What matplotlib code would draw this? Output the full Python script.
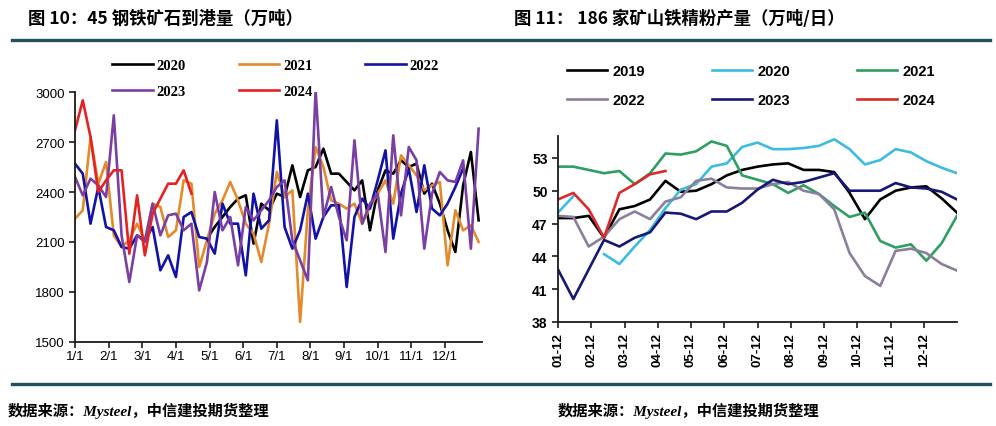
"""Iron ore panel pair: 45-port weekly arrivals and 186-mine concentrate output."""

import matplotlib

matplotlib.use("Agg")
import matplotlib.pyplot as plt
import numpy as np
from matplotlib.lines import Line2D

nan = np.nan
W, H = 996, 427

# --- left panel: 45 港铁矿石到港量, weekly (万吨) ---
arrival_years = ["2020", "2021", "2022", "2023", "2024"]
arrival_colors = ["#000000", "#e38b2c", "#1212a6", "#7a3fa3", "#e52222"]
arrivals_2020 = [nan] * 17 + [
    2120, 2190, 2250, 2310, 2360, 2380, 2090, 2330, 2290, 2390, 2370, 2560, 2370,
    2530, 2550, 2660, 2510, 2510, 2460, 2410, 2470, 2170, 2410, 2530, 2510, 2590,
    2550, 2570, 2390, 2450, 2330, 2170, 2040, 2440, 2640, 2230]
arrivals_2021 = [
    2240, 2290, 2730, 2450, 2580, 2140, 2070, 2110, 2210, 2110, 2330, 2310, 2130,
    2170, 2470, 2450, 1950, 2110, 2270, 2350, 2460, 2350, 2210, 2150, 1980, 2210,
    2520, 2370, 2410, 1620, 2290, 2670, 2550, 2350, 2330, 2300, 2330, 2210, 2310,
    2390, 2470, 2330, 2620, 2560, 2500, 2410, 2440, 2460, 1960, 2290, 2170, 2200, 2100]
arrivals_2022 = [
    2570, 2510, 2210, 2430, 2190, 2170, 2070, 2060, 2140, 2110, 2190, 1930, 2020,
    1890, 2250, 2280, 2130, 2120, 2030, 2330, 2210, 2210, 1900, 2390, 2180, 2230,
    2830, 2190, 2060, 2170, 2390, 2120, 2250, 2320, 2320, 1830, 2250, 2360, 2300,
    2470, 2650, 2120, 2390, 2540, 2280, 2560, 2300, 2260, 2330, 2430, 2540]
arrivals_2023 = [
    2490, 2380, 2480, 2440, 2370, 2860, 2140, 1860, 2140, 2100, 2330, 2140, 2260,
    2270, 2170, 2210, 1810, 1980, 2400, 2170, 2250, 1960, 2310, 2230, 2290, 2350,
    2430, 2470, 2110, 1990, 1870, 3010, 2250, 2430, 2250, 2110, 2710, 2210, 2330,
    2390, 2040, 2740, 2260, 2670, 2590, 2060, 2390, 2520, 2470, 2460, 2590, 2060, 2780]
arrivals_2024 = [
    2770, 2950, 2730, 2400, 2470, 2530, 2530, 2030, 2380, 2020, 2270, 2360, 2450,
    2450, 2530, 2390]
arrival_months = ["1/1", "2/1", "3/1", "4/1", "5/1", "6/1",
                  "7/1", "8/1", "9/1", "10/1", "11/1", "12/1"]
arrival_yticks = [1500, 1800, 2100, 2400, 2700, 3000]

# --- right panel: 186 家矿山铁精粉产量, biweekly (万吨/日) ---
output_years = ["2019", "2020", "2021", "2022", "2023", "2024"]
output_colors = ["#000000", "#3dbbe0", "#2f9e63", "#8b7f9c", "#171775", "#d92b2b"]
output_2019 = [47.5, 47.5, 47.7, 45.7, 48.3, 48.6, 49.2, 50.9, 49.9, 50.0, 50.6, 51.4,
               51.9, 52.2, 52.4, 52.5, 51.9, 51.9, 51.7, 49.8, 47.4, 49.2, 50.0, 50.3,
               50.4, 49.3, 48.0]
output_2020 = [48.0, 49.5, nan, 44.2, 43.3, 44.9, 46.4, 48.4, 50.1, 50.6, 52.2, 52.5,
               54.0, 54.4, 53.8, 53.8, 53.9, 54.1, 54.7, 53.8, 52.4, 52.8, 53.8, 53.5,
               52.7, 52.1, 51.6]
output_2021 = [52.2, 52.2, 51.9, 51.6, 51.8, 50.6, 51.6, 53.4, 53.3, 53.6, 54.5, 54.1,
               51.4, 51.0, 50.6, 49.8, 50.5, 49.7, 48.6, 47.6, 48.0, 45.4, 44.8, 45.1,
               43.6, 45.2, 47.7]
output_2022 = [47.7, 47.6, 44.9, 45.8, 47.4, 48.1, 47.4, 49.0, 49.4, 50.9, 51.1, 50.3,
               50.2, 50.2, 50.6, 50.8, 50.0, 49.7, 48.3, 44.3, 42.2, 41.3, 44.5, 44.7,
               44.3, 43.3, 42.7]
output_2023 = [42.8, 40.1, 42.8, 45.5, 44.9, 45.7, 46.2, 48.0, 47.9, 47.4, 48.1, 48.1,
               48.9, 50.1, 51.0, 50.6, 50.8, 51.2, 51.6, 50.0, 50.0, 50.0, 50.7, 50.3,
               50.2, 49.9, 49.2]
output_2024 = [49.2, 49.8, 48.3, 45.7, 49.8, 50.6, 51.5, 51.8]
output_months = ["01-12", "02-12", "03-12", "04-12", "05-12", "06-12",
                 "07-12", "08-12", "09-12", "10-12", "11-12", "12-12"]
output_yticks = [38, 41, 44, 47, 50, 53]

RULE = "#22505f"
CJK = ["Noto Sans CJK SC", "DejaVu Sans"]


def fx(px):
    return px / W


def fy(py):
    return 1 - py / H


def add_axes(left, top, right, bottom):
    return fig.add_axes([fx(left), fy(bottom), fx(right - left), (bottom - top) / H])


def style_spines(ax):
    for side in ("top", "right"):
        ax.spines[side].set_visible(False)
    for side in ("left", "bottom"):
        ax.spines[side].set_linewidth(1.3)
        ax.spines[side].set_color("#1a1a1a")
    ax.tick_params(direction="out", length=4, width=1.2, color="#1a1a1a")


fig = plt.figure(figsize=(W / 100, H / 100), dpi=100, facecolor="white")

# header / footer rules and texts
for py in (41, 385):
    fig.add_artist(Line2D([fx(12), fx(990)], [fy(py), fy(py)], color=RULE, lw=2.4))
fig.text(fx(28), fy(19), "图 10：45 钢铁矿石到港量（万吨）", family=CJK,
         weight="bold", fontsize=12.5, va="center")
fig.text(fx(514), fy(19), "图 11： 186 家矿山铁精粉产量（万吨/日）", family=CJK,
         weight="bold", fontsize=12.5, va="center")
for left in (8, 558):
    fig.text(fx(left), fy(411), "数据来源：Mysteel，中信建投期货整理",
             family=["Liberation Serif", "Noto Sans CJK SC"], style="italic",
             weight="bold", fontsize=11, va="center")

# left panel
ax1 = add_axes(75, 93, 482, 343)
series = [arrivals_2020, arrivals_2021, arrivals_2022, arrivals_2023, arrivals_2024]
lines = {}
for year, vals, col in zip(arrival_years, series, arrival_colors):
    x = np.arange(len(vals)) * 12 / 52
    (lines[year],) = ax1.plot(x, vals, color=col, lw=1.9, label=year)
ax1.set_xlim(0, 12.1)
ax1.set_ylim(arrival_yticks[0], arrival_yticks[-1])
ax1.set_xticks(range(12))
ax1.set_xticklabels(arrival_months, family="Liberation Sans", fontsize=9.5)
ax1.set_yticks(arrival_yticks)
ax1.set_yticklabels([str(v) for v in arrival_yticks], family="Liberation Sans", fontsize=9.5)
ax1.tick_params(axis="x", pad=2)
style_spines(ax1)
order = ["2020", "2023", "2021", "2024", "2022"]
fig.legend([lines[y] for y in order], order, ncol=3, frameon=False,
           loc="upper left", bbox_to_anchor=(fx(105), fy(53)), borderpad=0,
           handlelength=2.8, handletextpad=0.25, columnspacing=3.6,
           labelspacing=0.85, prop={"family": "Liberation Serif", "weight": "bold",
                                    "size": 10.5})

# right panel
ax2 = add_axes(558, 137, 957, 323)
series = [output_2019, output_2020, output_2021, output_2022, output_2023, output_2024]
lines = {}
for year, vals, col in zip(output_years, series, output_colors):
    x = np.arange(len(vals)) * 12 / 26
    (lines[year],) = ax2.plot(x, vals, color=col, lw=1.9, label=year)
ax2.set_xlim(0, 12)
ax2.set_ylim(38, 55)
ax2.set_xticks(range(12))
ax2.set_xticklabels(output_months, rotation=90, family="Liberation Sans",
                    weight="bold", fontsize=9.5)
ax2.set_yticks(output_yticks)
ax2.set_yticklabels([str(v) for v in output_yticks], family="Liberation Sans",
                    weight="bold", fontsize=10)
style_spines(ax2)
order = ["2019", "2022", "2020", "2023", "2021", "2024"]
fig.legend([lines[y] for y in order], order, ncol=3, frameon=False,
           loc="upper left", bbox_to_anchor=(fx(560), fy(58)), borderpad=0,
           handlelength=2.75, handletextpad=0.35, columnspacing=4.6,
           labelspacing=1.0, prop={"family": "Liberation Sans", "weight": "bold",
                                   "size": 10.5})

fig.savefig("out.png", dpi=100, facecolor="white")
